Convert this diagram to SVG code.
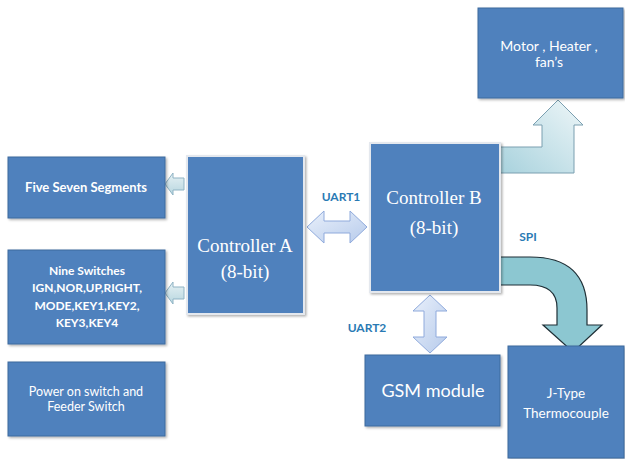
<svg xmlns="http://www.w3.org/2000/svg" width="625" height="459" viewBox="0 0 625 459">
<style>
.box{fill:#4f81bd;stroke:#3c6a9e;stroke-width:1}
.ctl{fill:#4f81bd;stroke:#e4e8ee;stroke-width:2}
.t{fill:#ffffff;font-family:Lato,"Open Sans","Liberation Sans",sans-serif;text-anchor:middle}
.serif{fill:#ffffff;font-family:"Liberation Serif","DejaVu Serif",serif;font-size:19px;text-anchor:middle}
.lbl{fill:#2a7ab4;font-family:Lato,"Open Sans","Liberation Sans",sans-serif;font-weight:bold;font-size:12px;text-anchor:middle}
.dbl{fill:url(#gu);stroke:#8faadc;stroke-width:1}
.sm{fill:url(#gs);stroke:#8fb3c4;stroke-width:1}
.bent{fill:url(#gb);stroke:#7a9fb0;stroke-width:1}
.spi{fill:#8cc7d1;stroke:#1f2f36;stroke-width:1.2}
</style>
<defs>
<linearGradient id="gu" x1="0" y1="0" x2="1" y2="1"><stop offset="0" stop-color="#e9f0fb"/><stop offset="1" stop-color="#b7cbeb"/></linearGradient>
<linearGradient id="gs" x1="0" y1="0" x2="0" y2="1"><stop offset="0" stop-color="#e6f1f4"/><stop offset="1" stop-color="#b7d6df"/></linearGradient>
<linearGradient id="gb" x1="0" y1="1" x2="1" y2="0"><stop offset="0" stop-color="#a8d2dd"/><stop offset="1" stop-color="#eef6f8"/></linearGradient>
<filter id="sh" x="-10%" y="-10%" width="130%" height="130%"><feDropShadow dx="1.5" dy="1.5" stdDeviation="1.2" flood-color="#000" flood-opacity="0.3"/></filter>
</defs>
<rect width="625" height="459" fill="#ffffff"/>
<g id="connectors">
<path class="sm" d="M165,184 L173,173 L173,178 L184,178 L184,190 L173,190 L173,195 Z"/>
<path class="sm" d="M165,293 L173,282 L173,287 L184,287 L184,299 L173,299 L173,304 Z"/>
<path class="dbl" d="M307,227 L324,211 L324,221 L350,221 L350,211 L367,227 L350,243 L350,233 L324,233 L324,243 Z"/>
<path class="dbl" d="M430,295 L447,311 L436,311 L436,337 L447,337 L430,353 L413,337 L424,337 L424,311 L413,311 Z"/>
<path class="bent" d="M500,147 L542,147 L542,125 L533,125 L558,100 L583,125 L574,125 L574,173 L500,173 Z"/>
<path class="spi" d="M500,257 L530,257 Q587,257 587,310 L587,325 L602,325 L573,352 L543,325 L557,325 L557,308 Q557,285 530,285 L500,285 Z"/>
<text class="lbl" x="341" y="201">UART1</text>
<text class="lbl" x="528" y="241">SPI</text>
<text class="lbl" x="367" y="332">UART2</text>
</g>
<g id="five-seven">
<rect class="box" x="8" y="157" width="157" height="61" filter="url(#sh)"/>
<text class="t" x="86" y="192" font-size="13" font-weight="bold">Five Seven Segments</text>
</g>
<g id="nine-switches">
<rect class="box" x="8" y="250" width="157" height="94" filter="url(#sh)"/>
<text class="t" font-size="12" font-weight="bold"><tspan x="87" y="275">Nine Switches</tspan><tspan x="87" y="292">IGN,NOR,UP,RIGHT,</tspan><tspan x="87" y="310">MODE,KEY1,KEY2,</tspan><tspan x="87" y="327">KEY3,KEY4</tspan></text>
</g>
<g id="power">
<rect class="box" x="8" y="362" width="157" height="74" filter="url(#sh)"/>
<text class="t" font-size="12.5"><tspan x="86" y="396">Power on switch and</tspan><tspan x="86" y="411">Feeder Switch</tspan></text>
</g>
<g id="controller-a">
<rect class="ctl" x="187" y="156" width="117" height="158" filter="url(#sh)"/>
<text class="serif"><tspan x="245" y="252">Controller A</tspan><tspan x="245" y="278">(8-bit)</tspan></text>
</g>
<g id="controller-b">
<rect class="ctl" x="370" y="143" width="130" height="149" filter="url(#sh)"/>
<text class="serif"><tspan x="434" y="204">Controller B</tspan><tspan x="434" y="234">(8-bit)</tspan></text>
</g>
<g id="motor">
<rect class="box" x="478" y="8" width="145" height="90" filter="url(#sh)"/>
<text class="t" font-size="14"><tspan x="549" y="51">Motor , Heater ,</tspan><tspan x="549" y="67">fan’s</tspan></text>
</g>
<g id="gsm">
<rect class="box" x="365" y="355" width="135" height="71" filter="url(#sh)"/>
<text class="t" x="433" y="397" font-size="18">GSM module</text>
</g>
<g id="thermocouple">
<rect class="box" x="508" y="346" width="116" height="112" filter="url(#sh)"/>
<text class="t" font-size="13.5"><tspan x="566" y="398">J-Type</tspan><tspan x="566" y="418">Thermocouple</tspan></text>
</g>
</svg>
